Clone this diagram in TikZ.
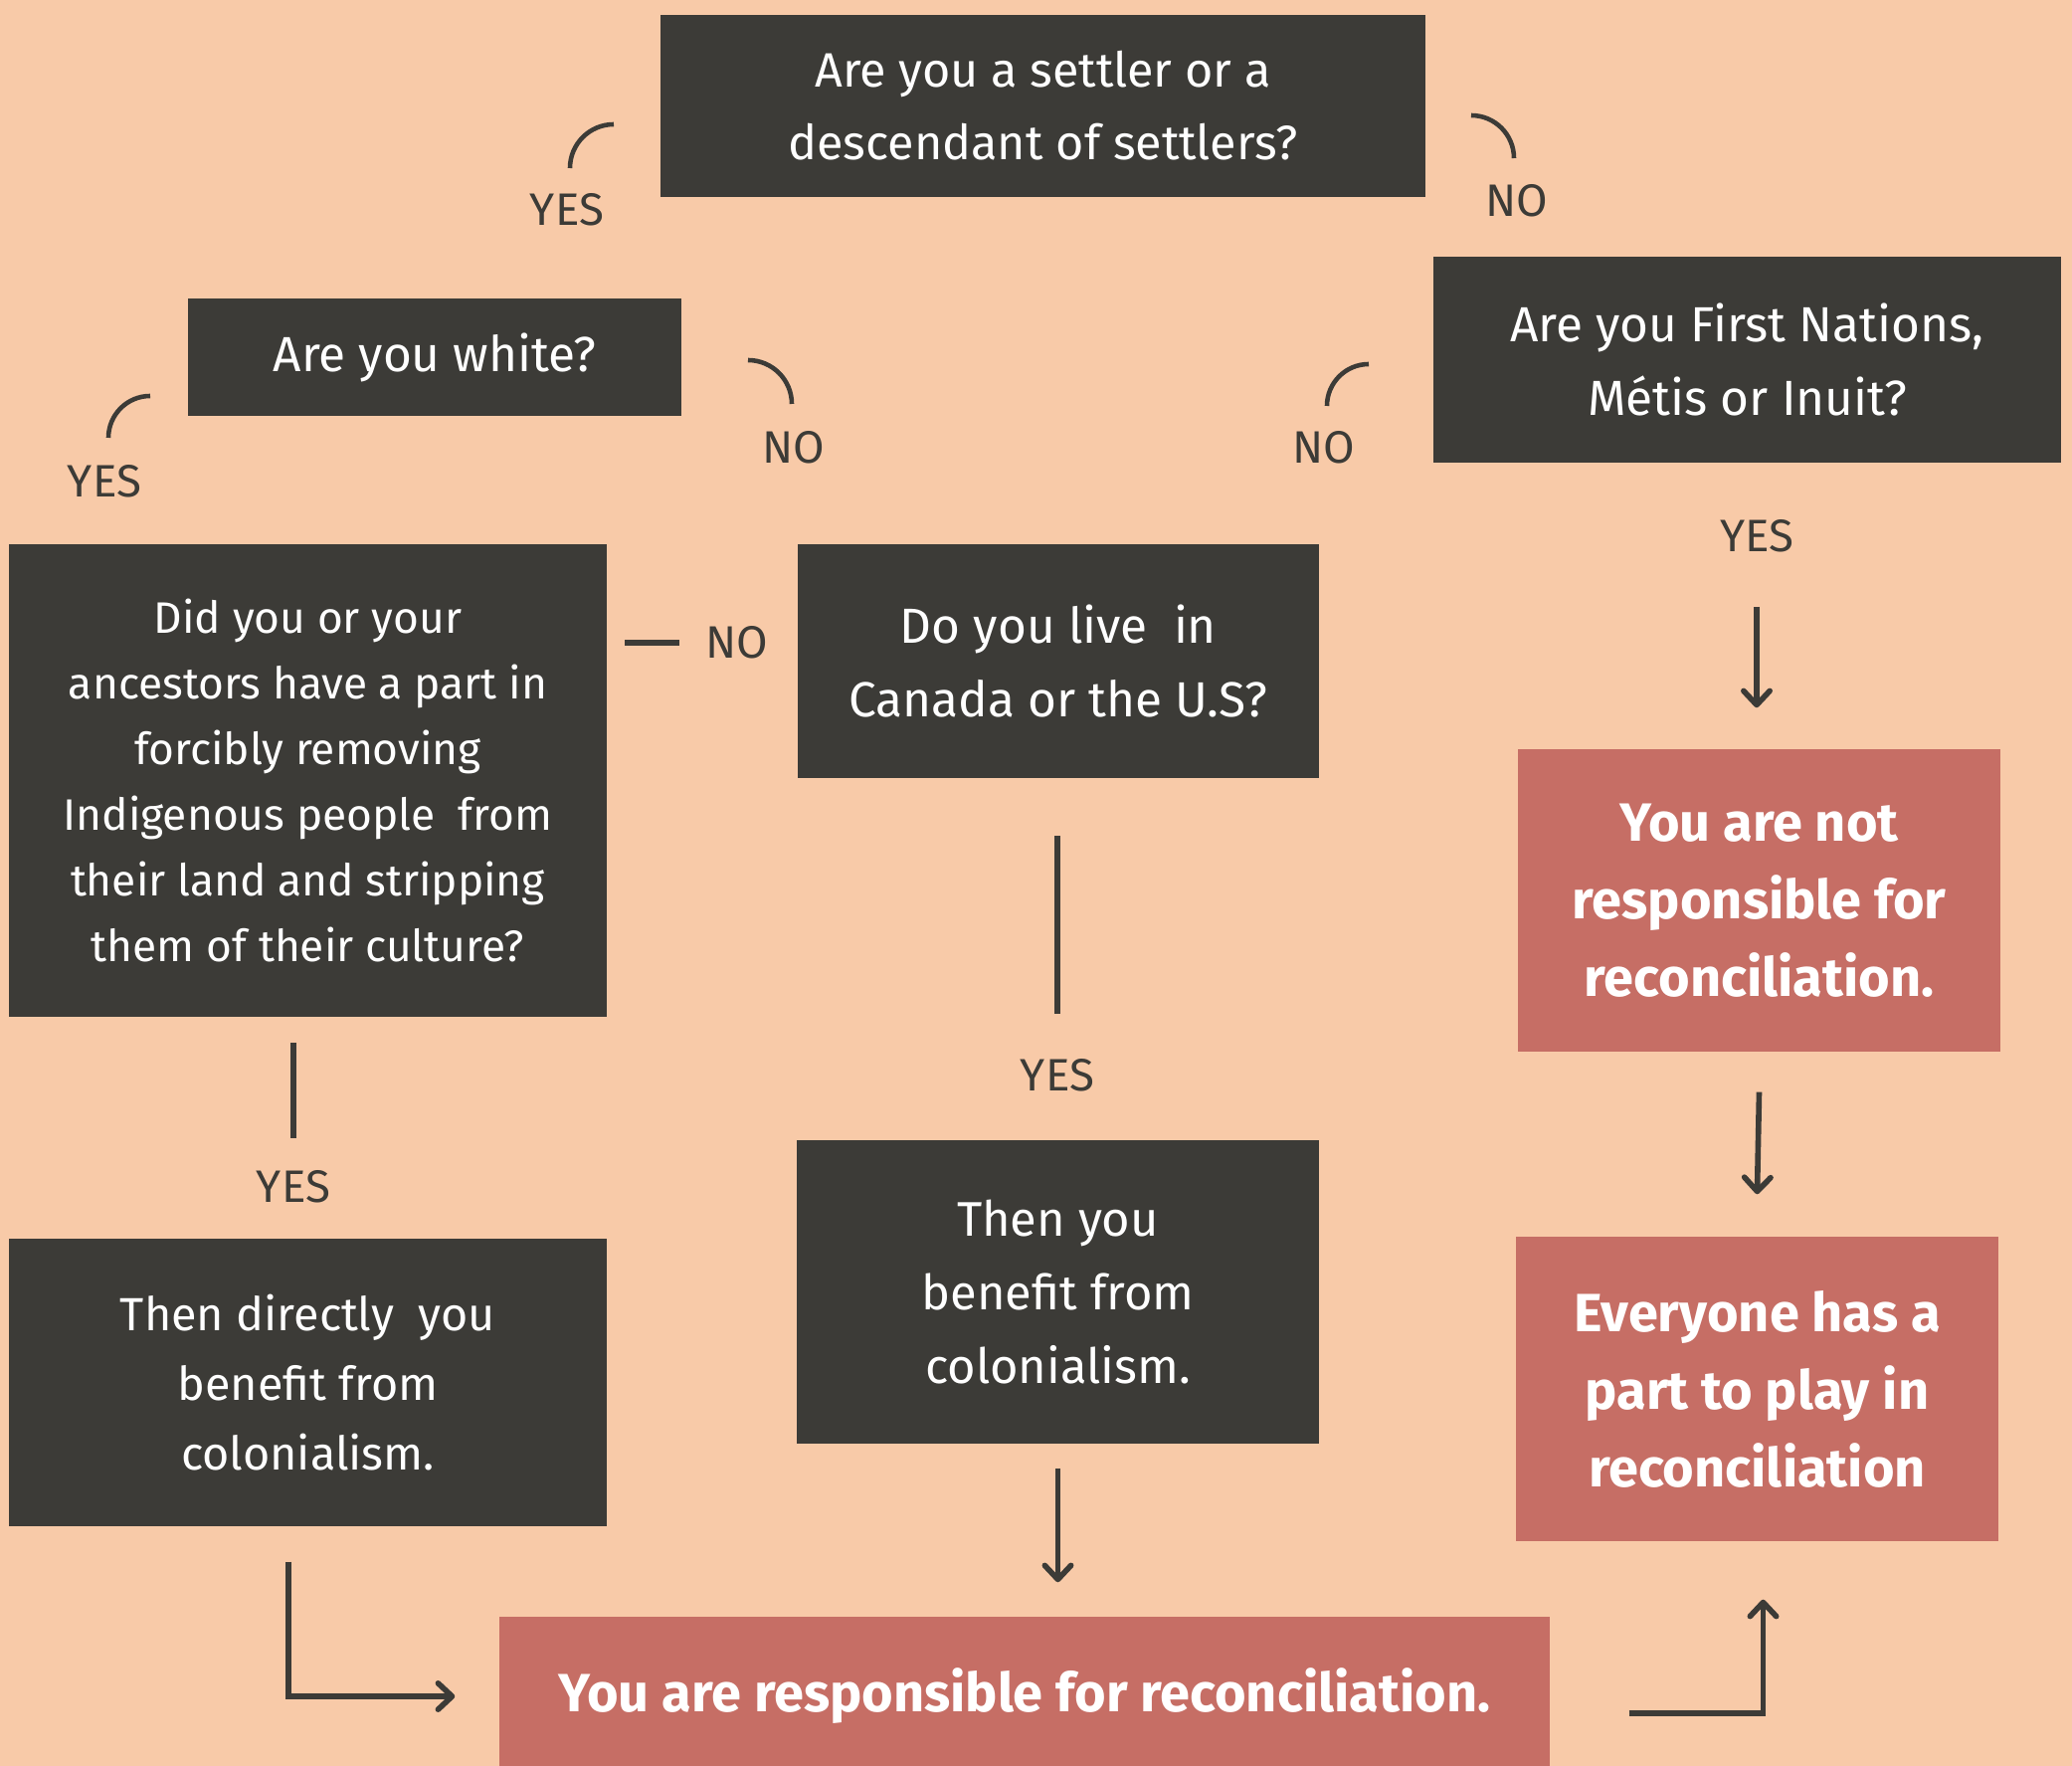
\documentclass[tikz,border=0pt]{standalone}
\usepackage{fontspec}
\setmainfont{Fira Sans}
\usetikzlibrary{positioning,arrows.meta}

\definecolor{peach}{HTML}{F8CAA8}
\definecolor{slate}{HTML}{3C3B37}
\definecolor{rose}{HTML}{C66E65}

\begin{document}
\begin{tikzpicture}
    [ qbox/.style={rectangle, fill=slate, text=white, align=center, inner sep=0pt}
    , abox/.style={rectangle, fill=rose, text=white, align=center, inner sep=0pt,
        font=\fontsize{15.4}{22.2}\selectfont\bfseries}
    , lbl/.style={text=slate, inner sep=0pt, font=\fontsize{13}{15}\selectfont}
    , link/.style={draw=slate, line width=1.6pt}
    , arr/.style={link, -{Straight Barb[round, length=4pt, width=7.5pt]}}
    , curl/.style={draw=slate, line width=1.3pt}
    ]
  \fill[peach] (0,0) rectangle (20.83,17.75);
  \useasboundingbox (0,0) rectangle (20.83,17.75);

  % questions
  \node[qbox, minimum width=7.69cm, minimum height=1.83cm,
    font=\fontsize{13.8}{20.8}\selectfont] (settler) at (10.485,16.685)
    {Are you a settler or a\\descendant of settlers?};
  \node[qbox, minimum width=4.96cm, minimum height=1.18cm,
    font=\fontsize{14.1}{20.8}\selectfont] (white) at (4.37,14.16)
    {Are you white?};
  \node[qbox, minimum width=6.31cm, minimum height=2.07cm,
    font=\fontsize{14.1}{20.8}\selectfont] (first) at (17.565,14.135)
    {Are you First Nations,\\M\'etis or Inuit?};
  \node[qbox, minimum width=6.01cm, minimum height=4.75cm,
    font=\fontsize{12.6}{18.8}\selectfont] (removing) at (3.095,9.905)
    {Did you or your\\ancestors have a part in\\forcibly removing\\Indigenous people\ \ from\\their land and stripping\\them of their culture?};
  \node[qbox, minimum width=5.24cm, minimum height=2.35cm,
    font=\fontsize{14.1}{20.8}\selectfont] (live) at (10.64,11.105)
    {Do you live\ \ in\\Canada or the U.S?};
  \node[qbox, minimum width=6.01cm, minimum height=2.89cm,
    font=\fontsize{13.3}{19.9}\selectfont] (directly) at (3.095,3.855)
    {Then directly\ \ you\\benefit from\\colonialism.};
  \node[qbox, minimum width=5.25cm, minimum height=3.05cm,
    font=\fontsize{13.9}{21}\selectfont] (thenyou) at (10.635,4.765)
    {Then you\\benefit from\\colonialism.};

  % answers
  \node[abox, minimum width=4.85cm, minimum height=3.04cm] (notresp) at (17.685,8.70)
    {You are not\\responsible for\\reconciliation.};
  \node[abox, minimum width=4.85cm, minimum height=3.06cm] (everyone) at (17.665,3.79)
    {Everyone has a\\part to play in\\reconciliation};
  \node[abox, minimum width=10.56cm, minimum height=1.6cm] (resp) at (10.30,0.70)
    {You are responsible for reconciliation.};

  % labels
  \node[lbl] (yes1) at (5.70,15.64) {YES};
  \node[lbl] (no1) at (15.25,15.73) {NO};
  \node[lbl] (yes2) at (1.05,12.91) {YES};
  \node[lbl] (no2) at (7.98,13.25) {NO};
  \node[lbl] (no3) at (13.31,13.25) {NO};
  \node[lbl] (yes3) at (17.66,12.36) {YES};
  \node[lbl] (no4) at (7.41,11.29) {NO};
  \node[lbl] (yes4) at (10.63,6.94) {YES};
  \node[lbl] (yes5) at (2.95,5.82) {YES};

  % curls over the labels
  \draw[curl] ([shift={(0.03,0.42)}]yes1.center) arc[start angle=180, end angle=90, radius=0.44];
  \draw[curl] ([shift={(-0.03,0.43)}]no1.center) arc[start angle=0, end angle=90, radius=0.43];
  \draw[curl] ([shift={(0.04,0.44)}]yes2.center) arc[start angle=180, end angle=90, radius=0.42];
  \draw[curl] ([shift={(-0.02,0.44)}]no2.center) arc[start angle=0, end angle=90, radius=0.44];
  \draw[curl] ([shift={(0.03,0.42)}]no3.center) arc[start angle=180, end angle=90, radius=0.42];

  % lines and arrows
  \draw[link] ([xshift=-0.26cm]no4.west) -- ([xshift=-0.81cm]no4.west);
  \draw[link] ([yshift=0.45cm]yes4.north) -- ([yshift=2.24cm]yes4.north);
  \draw[link] ([yshift=0.32cm]yes5.north) -- ([yshift=1.28cm]yes5.north);
  \draw[arr] ([yshift=-0.71cm]yes3.center) -- ([yshift=0.41cm]yes3.center |- notresp.north);
  \draw[arr] ([yshift=-0.40cm]notresp.south) -- ([yshift=0.42cm]everyone.north);
  \draw[arr] ([yshift=-0.24cm]thenyou.south) -- ([yshift=0.34cm]thenyou.south |- resp.north);
  \draw[arr] ([xshift=-0.195cm, yshift=-0.35cm]directly.south) |- ([xshift=-0.44cm]resp.west);
  \draw[arr] ([xshift=0.79cm, yshift=-0.17cm]resp.east) -| ([xshift=0.06cm, yshift=-0.58cm]everyone.south);
\end{tikzpicture}
\end{document}
